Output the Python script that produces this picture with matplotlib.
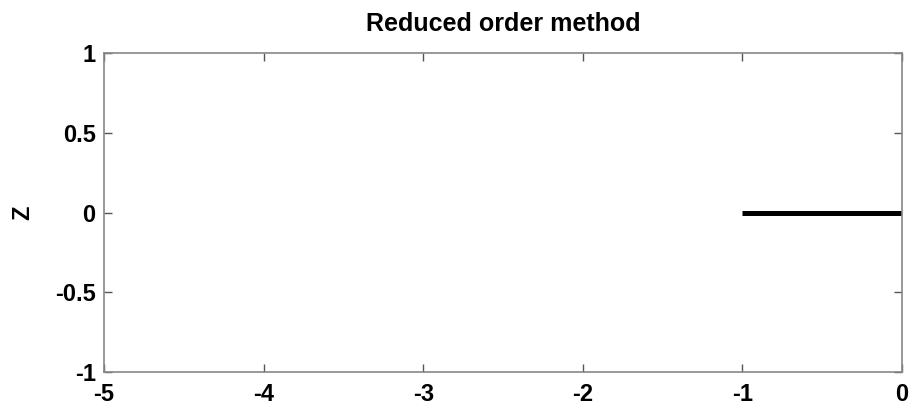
import matplotlib

matplotlib.use("Agg")
import matplotlib.pyplot as plt

# ── Data ─────────────────────────────────────────────
x_vals = [-1.0, -0.5, 0.0]
z_vals = [0.0, 0.0, 0.0]
x_ticks = [-5, -4, -3, -2, -1, 0]
y_ticks = [-1, -0.5, 0, 0.5, 1]

plt.rcParams.update({
    "font.family": "Liberation Sans",
    "font.weight": "bold",
    "font.size": 16,
})

fig = plt.figure(figsize=(9.18, 4.07), dpi=100)
ax = fig.add_axes([104 / 918, 1 - 372 / 407, 798 / 918, 319 / 407])

ax.plot(x_vals, z_vals, color="black", linewidth=3.6, solid_capstyle="butt")

ax.set_xlim(-5, 0)
ax.set_ylim(-1, 1)
ax.set_xticks(x_ticks)
ax.set_yticks(y_ticks)
ax.set_xticklabels([f"{t:g}" for t in x_ticks], fontweight="bold")
ax.set_yticklabels([f"{t:g}" for t in y_ticks], fontweight="bold")
ax.tick_params(direction="in", top=True, right=True, length=6, width=1,
               color="#555555", labelsize=17)
ax.tick_params(axis="x", pad=8)
ax.tick_params(axis="y", pad=6)
for sp in ax.spines.values():
    sp.set_color("#888888")
    sp.set_linewidth(1.2)

ax.set_ylabel("Z", fontsize=17, fontweight="bold", labelpad=15)
ax.set_title("Reduced order method", fontsize=18, fontweight="bold", pad=16)

fig.savefig("out.png", dpi=100)
